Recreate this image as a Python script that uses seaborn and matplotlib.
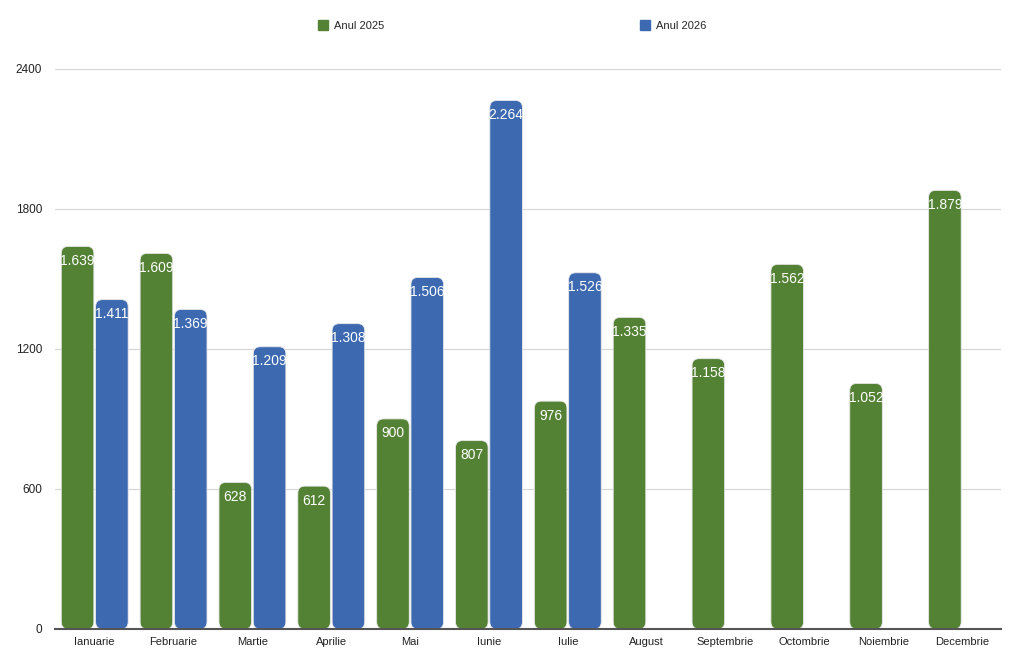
import numpy as np
import pandas as pd
import matplotlib
matplotlib.use("Agg")
import matplotlib.pyplot as plt
import seaborn as sns
from matplotlib.patches import FancyBboxPatch
from matplotlib.lines import Line2D

months = ["Ianuarie", "Februarie", "Martie", "Aprilie", "Mai", "Iunie",
          "Iulie", "August", "Septembrie", "Octombrie", "Noiembrie", "Decembrie"]
values_2025 = [1639, 1609, 628, 612, 900, 807, 976, 1335, 1158, 1562, 1052, 1879]
values_2026 = [1411, 1369, 1209, 1308, 1506, 2264, 1526,
               np.nan, np.nan, np.nan, np.nan, np.nan]
series = ["Anul 2025", "Anul 2026"]
colors = ["#548235", "#3d69b1"]
y_ticks = [0, 600, 1200, 1800, 2400]

df = pd.DataFrame({
    "Luna": months * 2,
    "An": [series[0]] * 12 + [series[1]] * 12,
    "Valoare": values_2025 + values_2026,
})

sns.set_style("white")
plt.rcParams["font.family"] = ["Liberation Sans", "DejaVu Sans"]

fig = plt.figure(figsize=(10.24, 6.63), dpi=100)
ax = fig.add_axes([0.054, 0.0513, 0.924, 0.845])

sns.barplot(data=df, x="Luna", y="Valoare", hue="An", palette=colors,
            width=0.87, gap=0.05, ax=ax, legend=False, saturation=1)

ax.set_ylim(0, 2400)
ax.set_xlim(-0.5, 11.5)

# rounded bars: radius in pixels converted to data units
fig.canvas.draw()
inv = ax.transData.inverted()
px_x = (inv.transform((1, 0)) - inv.transform((0, 0)))[0]
px_y = (inv.transform((0, 1)) - inv.transform((0, 0)))[1]
radius_px = 7
aspect = abs(px_y / px_x)

bars = list(ax.patches)
for p in bars:
    h = p.get_height()
    if not np.isfinite(h) or h <= 0:
        p.remove()
        continue
    x, w = p.get_x(), p.get_width()
    fc = p.get_facecolor()
    p.remove()
    rb = FancyBboxPatch((x, 0), w, h,
                        boxstyle=f"round,pad=0,rounding_size={radius_px * px_x}",
                        mutation_aspect=aspect, facecolor=fc,
                        edgecolor="#e8e8e8", linewidth=0.6, zorder=3)
    ax.add_patch(rb)
    ax.annotate(f"{int(h):,}".replace(",", "."), (x + w / 2, h),
                xytext=(0, -10.5), textcoords="offset points",
                ha="center", va="center", color="white", fontsize=10, zorder=4)

ax.set_yticks(y_ticks)
ax.set_yticklabels([str(v) for v in y_ticks])
ax.yaxis.grid(True, color="#d4d4d4", linewidth=0.8)
ax.set_axisbelow(True)
ax.tick_params(axis="both", length=0, labelsize=8, colors="#222222")
ax.tick_params(axis="y", pad=9.5, labelsize=8.5)
ax.tick_params(axis="x", pad=6)
ax.set_xlabel("")
ax.set_ylabel("")
for side in ["left", "right", "top"]:
    ax.spines[side].set_visible(False)
ax.spines["bottom"].set_color("#555555")
ax.spines["bottom"].set_linewidth(1.5)
ax.spines["bottom"].set_zorder(5)

handles = [Line2D([], [], marker="s", linestyle="", markersize=7,
                  markerfacecolor=c, markeredgecolor=c) for c in colors]
fig.legend(handles, series, loc="center", bbox_to_anchor=(0.5, 0.961),
           ncol=2, frameon=False, fontsize=8, columnspacing=23,
           handletextpad=0.5, handlelength=1.0)

fig.savefig("out.png", dpi=100)
